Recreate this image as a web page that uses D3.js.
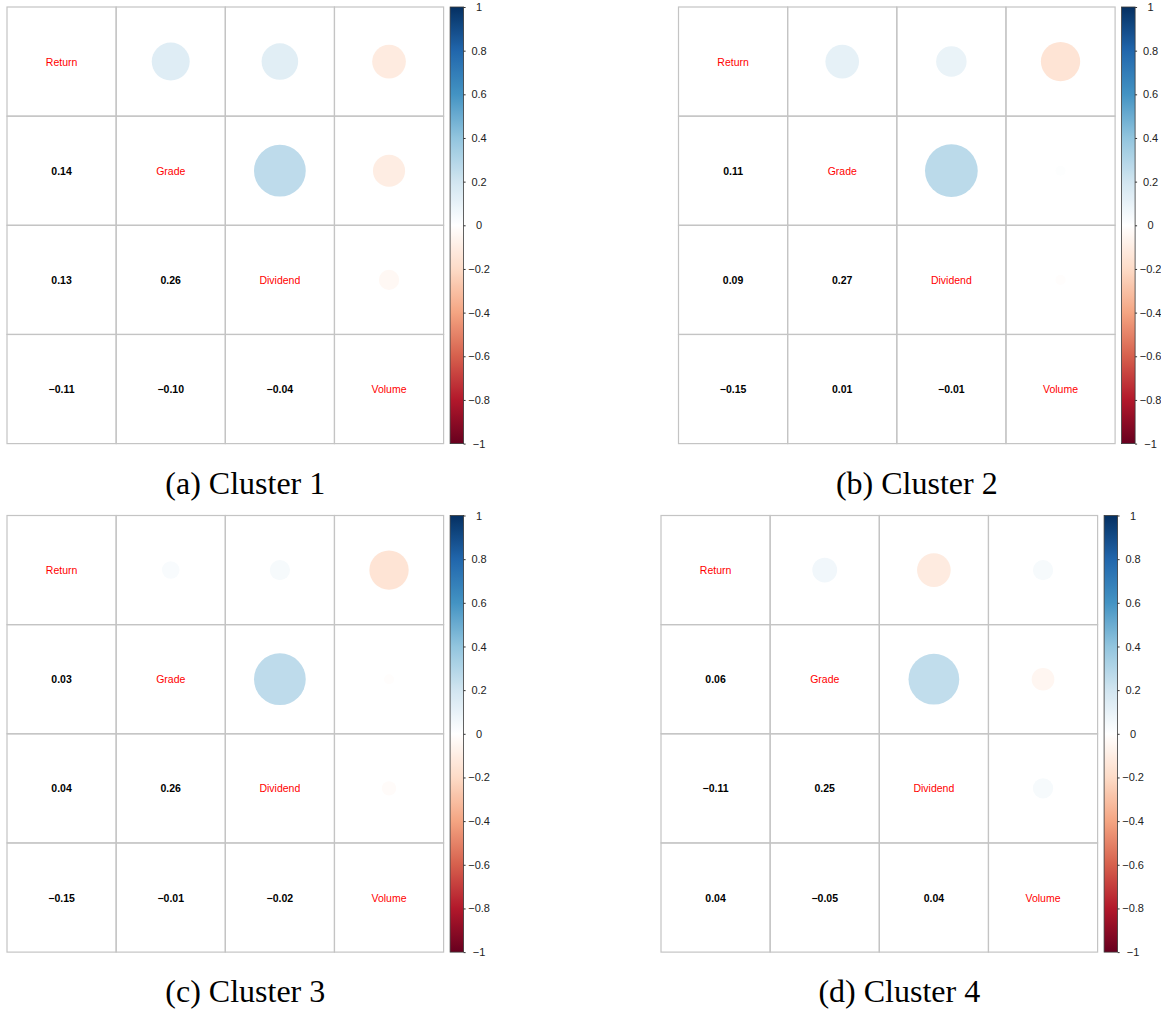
<!DOCTYPE html>
<html>
<head>
<meta charset="utf-8">
<script src="https://cdn.jsdelivr.net/npm/d3@7"></script>
<style>
  html, body { margin: 0; padding: 0; background: #fff; }
  svg { display: block; }
</style>
</head>
<body>
<svg id="chart" width="1161" height="1010"></svg>
<script>
// Variables shown on the diagonal of every correlation matrix
const variables = ["Return", "Grade", "Dividend", "Volume"];

// Lower-triangle correlations, row by row:
// (Grade,Return), (Dividend,Return), (Dividend,Grade),
// (Volume,Return), (Volume,Grade), (Volume,Dividend)
const cluster1 = [0.14, 0.13, 0.26, -0.11, -0.10, -0.04];
const cluster2 = [0.11, 0.09, 0.27, -0.15, 0.01, -0.01];
const cluster3 = [0.03, 0.04, 0.26, -0.15, -0.01, -0.02];
const cluster4 = [0.06, -0.11, 0.25, 0.04, -0.05, 0.04];

const captions = ["(a) Cluster 1", "(b) Cluster 2", "(c) Cluster 3", "(d) Cluster 4"];

// Colour legend ticks
const legendTicks = [1, 0.8, 0.6, 0.4, 0.2, 0, -0.2, -0.4, -0.6, -0.8, -1];

// RdBu diverging palette, -1 .. 1
const paletteColors = ["#67001F", "#B2182B", "#D6604D", "#F4A582", "#FDDBC7",
  "#FFFFFF", "#D1E5F0", "#92C5DE", "#4393C3", "#2166AC", "#053061"];

const clusters = [cluster1, cluster2, cluster3, cluster4];

// Panel placement
const panels = [
  { x: 7,     y: 7,     capY: 494 },
  { x: 678.5, y: 7,     capY: 494 },
  { x: 7,     y: 515.5, capY: 1002 },
  { x: 661,   y: 515.5, capY: 1002 }
];
const gridSize = 436.6;

const color = d3.scaleLinear()
  .domain(paletteColors.map((_, i) => -1 + 2 * i / (paletteColors.length - 1)))
  .range(paletteColors)
  .interpolate(d3.interpolateRgb);

const svg = d3.select("#chart");
const fmt = d3.format(".2f");

// Vertical gradient for the colour legend (top = +1, bottom = -1)
const defs = svg.append("defs");
const grad = defs.append("linearGradient")
  .attr("id", "legendGradient")
  .attr("x1", 0).attr("y1", 1).attr("x2", 0).attr("y2", 0);
grad.selectAll("stop")
  .data(d3.range(0, 101).map(i => i / 100))
  .join("stop")
  .attr("offset", t => t)
  .attr("stop-color", t => color(-1 + 2 * t));

// Build a symmetric matrix from the lower triangle
function toMatrix(lower) {
  const n = variables.length;
  const m = variables.map(() => variables.map(() => 1));
  let k = 0;
  for (let i = 1; i < n; i++) {
    for (let j = 0; j < i; j++) {
      m[i][j] = lower[k];
      m[j][i] = lower[k];
      k++;
    }
  }
  return m;
}

clusters.forEach((lower, p) => {
  const pos = panels[p];
  const g = svg.append("g");
  const matrix = toMatrix(lower);

  const x = d3.scaleBand().domain(variables).range([pos.x, pos.x + gridSize]);
  const y = d3.scaleBand().domain(variables).range([pos.y, pos.y + gridSize]);
  const radius = d3.scaleSqrt().domain([0, 1]).range([0, x.bandwidth() / 2 * 0.93]);

  const cells = [];
  variables.forEach((rv, i) => variables.forEach((cv, j) => {
    cells.push({ row: rv, col: cv, i, j, value: matrix[i][j] });
  }));

  // circles in the upper triangle
  g.selectAll("circle.corr")
    .data(cells.filter(c => c.j > c.i))
    .join("circle")
    .attr("class", "corr")
    .attr("cx", d => x(d.col) + x.bandwidth() / 2)
    .attr("cy", d => y(d.row) + y.bandwidth() / 2)
    .attr("r", d => radius(Math.abs(d.value)))
    .attr("fill", d => color(d.value));

  // numbers in the lower triangle
  g.selectAll("text.num")
    .data(cells.filter(c => c.j < c.i))
    .join("text")
    .attr("class", "num")
    .attr("x", d => x(d.col) + x.bandwidth() / 2)
    .attr("y", d => y(d.row) + y.bandwidth() / 2)
    .attr("text-anchor", "middle")
    .attr("dominant-baseline", "central")
    .attr("font-family", "Liberation Sans, Arial, sans-serif")
    .attr("font-size", 10.5)
    .attr("font-weight", "bold")
    .attr("fill", "#000")
    .text(d => fmt(d.value));

  // variable names on the diagonal
  g.selectAll("text.var")
    .data(cells.filter(c => c.j === c.i))
    .join("text")
    .attr("class", "var")
    .attr("x", d => x(d.col) + x.bandwidth() / 2)
    .attr("y", d => y(d.row) + y.bandwidth() / 2)
    .attr("text-anchor", "middle")
    .attr("dominant-baseline", "central")
    .attr("font-family", "Liberation Sans, Arial, sans-serif")
    .attr("font-size", 10.5)
    .attr("fill", "#ff0000")
    .text(d => d.row);

  // grid
  g.selectAll("rect.cell")
    .data(cells)
    .join("rect")
    .attr("class", "cell")
    .attr("x", d => x(d.col))
    .attr("y", d => y(d.row))
    .attr("width", x.bandwidth())
    .attr("height", y.bandwidth())
    .attr("fill", "none")
    .attr("stroke", "#c4c4c4")
    .attr("stroke-width", 1.2);

  // colour legend
  const barX = pos.x + gridSize + 6.5;
  const barW = 13.5;
  const ly = d3.scaleLinear().domain([-1, 1]).range([pos.y + gridSize, pos.y]);
  const leg = g.append("g");
  leg.append("rect")
    .attr("x", barX)
    .attr("y", ly(1))
    .attr("width", barW)
    .attr("height", ly(-1) - ly(1))
    .attr("fill", "url(#legendGradient)")
    .attr("stroke", "#3a3a3a")
    .attr("stroke-width", 0.8);

  const axis = leg.append("g")
    .attr("transform", `translate(${barX + barW},0)`)
    .call(d3.axisRight(ly).tickValues(legendTicks).tickSize(2).tickFormat(d3.format("")));
  axis.select(".domain").remove();
  axis.selectAll(".tick line").attr("stroke", "#333");
  axis.selectAll(".tick text")
    .attr("x", 15.5)
    .attr("text-anchor", "middle")
    .attr("font-family", "Liberation Sans, Arial, sans-serif")
    .attr("font-size", 11)
    .attr("fill", "#222");

  // caption
  svg.append("text")
    .attr("x", pos.x + gridSize / 2 + 20)
    .attr("y", pos.capY)
    .attr("text-anchor", "middle")
    .attr("font-family", "Liberation Serif, Times New Roman, serif")
    .attr("font-size", 32)
    .attr("fill", "#000")
    .text(captions[p]);
});
</script>
</body>
</html>
